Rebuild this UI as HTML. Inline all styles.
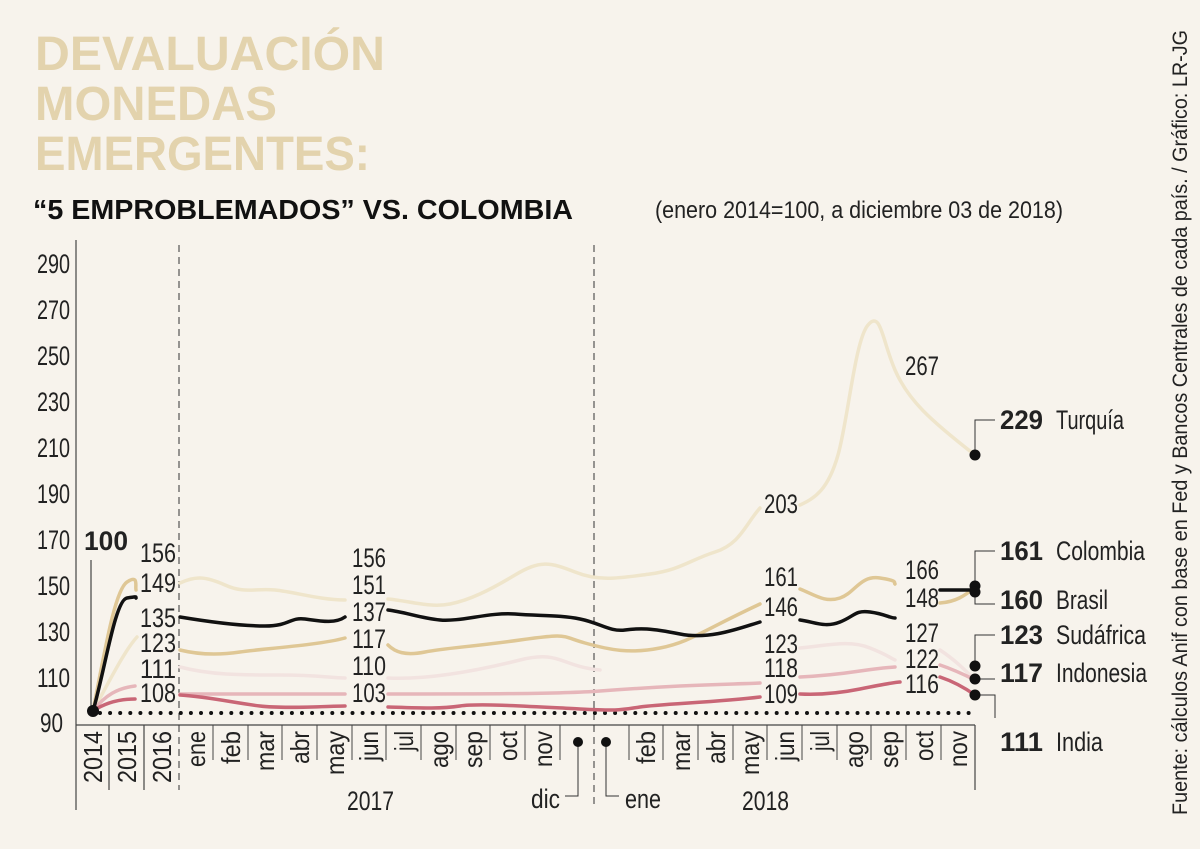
<!DOCTYPE html>
<html><head><meta charset="utf-8"><style>
html,body{margin:0;padding:0;background:#f7f3ec;}
svg{display:block;}
text{font-family:"Liberation Sans Narrow","Liberation Sans",sans-serif;fill:#222;}
.n{font-size:25px;}
.b{font-weight:bold;}
</style></head><body>
<svg width="1200" height="849" viewBox="0 0 1200 849" xmlns="http://www.w3.org/2000/svg">
<rect width="1200" height="849" fill="#f7f3ec"/>
<g font-weight="bold" style="font-size:48px">
<text x="35" y="70" style="fill:#e3d3ad" textLength="350" lengthAdjust="spacingAndGlyphs">DEVALUACIÓN</text>
<text x="35" y="120" style="fill:#e3d3ad" textLength="242" lengthAdjust="spacingAndGlyphs">MONEDAS</text>
<text x="35" y="170" style="fill:#e3d3ad" textLength="335" lengthAdjust="spacingAndGlyphs">EMERGENTES:</text>
</g>
<text x="33" y="219" class="b" style="font-size:28px;fill:#111" textLength="540" lengthAdjust="spacingAndGlyphs">“5 EMPROBLEMADOS” VS. COLOMBIA</text>
<text x="655" y="218" style="font-size:24px" textLength="408" lengthAdjust="spacingAndGlyphs">(enero 2014=100, a diciembre 03 de 2018)</text>
<text transform="translate(1187,815) rotate(-90)" style="font-size:21px" textLength="785" lengthAdjust="spacingAndGlyphs">Fuente: cálculos Anif con base en Fed y Bancos Centrales de cada país. / Gráfico: LR-JG</text>

<g class="n" text-anchor="end" style="font-size:27px">
<text x="70" y="273" textLength="33" lengthAdjust="spacingAndGlyphs">290</text>
<text x="70" y="319" textLength="33" lengthAdjust="spacingAndGlyphs">270</text>
<text x="70" y="365" textLength="33" lengthAdjust="spacingAndGlyphs">250</text>
<text x="70" y="411" textLength="33" lengthAdjust="spacingAndGlyphs">230</text>
<text x="70" y="457" textLength="33" lengthAdjust="spacingAndGlyphs">210</text>
<text x="70" y="503" textLength="33" lengthAdjust="spacingAndGlyphs">190</text>
<text x="70" y="549" textLength="33" lengthAdjust="spacingAndGlyphs">170</text>
<text x="70" y="595" textLength="33" lengthAdjust="spacingAndGlyphs">150</text>
<text x="70" y="641" textLength="33" lengthAdjust="spacingAndGlyphs">130</text>
<text x="70" y="687" textLength="33" lengthAdjust="spacingAndGlyphs">110</text>
<text x="63" y="732" textLength="23" lengthAdjust="spacingAndGlyphs">90</text>
</g>

<g stroke="#444" stroke-width="1.2" fill="none">
<line x1="76" y1="240" x2="76" y2="810"/>
<line x1="76" y1="725" x2="975" y2="725"/>
<line x1="109" y1="725" x2="109" y2="790"/>
<line x1="144" y1="725" x2="144" y2="790"/>
<line x1="975" y1="725" x2="975" y2="790"/>
<line x1="91" y1="560" x2="91" y2="711"/>
</g>
<g stroke="#444" stroke-width="1" fill="none">
<line x1="213" y1="725" x2="213" y2="760"/><line x1="248" y1="725" x2="248" y2="760"/>
<line x1="282" y1="725" x2="282" y2="760"/><line x1="317" y1="725" x2="317" y2="760"/>
<line x1="352" y1="725" x2="352" y2="760"/><line x1="386" y1="725" x2="386" y2="760"/>
<line x1="421" y1="725" x2="421" y2="760"/><line x1="456" y1="725" x2="456" y2="760"/>
<line x1="490" y1="725" x2="490" y2="760"/><line x1="525" y1="725" x2="525" y2="760"/>
<line x1="560" y1="725" x2="560" y2="760"/>
<line x1="629" y1="725" x2="629" y2="760"/><line x1="663" y1="725" x2="663" y2="760"/>
<line x1="698" y1="725" x2="698" y2="760"/><line x1="733" y1="725" x2="733" y2="760"/>
<line x1="767" y1="725" x2="767" y2="760"/><line x1="802" y1="725" x2="802" y2="760"/>
<line x1="837" y1="725" x2="837" y2="760"/><line x1="871" y1="725" x2="871" y2="760"/>
<line x1="906" y1="725" x2="906" y2="760"/><line x1="941" y1="725" x2="941" y2="760"/>
</g>
<g stroke="#333" stroke-width="1" stroke-dasharray="7,5">
<line x1="179" y1="245" x2="179" y2="790"/>
<line x1="594" y1="245" x2="594" y2="805"/>
</g>

<g class="n" text-anchor="end" style="font-size:26px">
<text transform="translate(102,731) rotate(-90)" textLength="52" lengthAdjust="spacingAndGlyphs">2014</text>
<text transform="translate(136,731) rotate(-90)" textLength="52" lengthAdjust="spacingAndGlyphs">2015</text>
<text transform="translate(171,731) rotate(-90)" textLength="52" lengthAdjust="spacingAndGlyphs">2016</text>
<text transform="translate(205,731) rotate(-90)" textLength="36" lengthAdjust="spacingAndGlyphs">ene</text>
<text transform="translate(240,731) rotate(-90)" textLength="33" lengthAdjust="spacingAndGlyphs">feb</text>
<text transform="translate(274,731) rotate(-90)" textLength="40" lengthAdjust="spacingAndGlyphs">mar</text>
<text transform="translate(309,731) rotate(-90)" textLength="33" lengthAdjust="spacingAndGlyphs">abr</text>
<text transform="translate(344,731) rotate(-90)" textLength="44" lengthAdjust="spacingAndGlyphs">may</text>
<text transform="translate(378,731) rotate(-90)" textLength="30" lengthAdjust="spacingAndGlyphs">jun</text>
<text transform="translate(413,731) rotate(-90)" textLength="20" lengthAdjust="spacingAndGlyphs">jul</text>
<text transform="translate(448,731) rotate(-90)" textLength="37" lengthAdjust="spacingAndGlyphs">ago</text>
<text transform="translate(482,731) rotate(-90)" textLength="37" lengthAdjust="spacingAndGlyphs">sep</text>
<text transform="translate(517,731) rotate(-90)" textLength="30" lengthAdjust="spacingAndGlyphs">oct</text>
<text transform="translate(552,731) rotate(-90)" textLength="36" lengthAdjust="spacingAndGlyphs">nov</text>
<text transform="translate(655,731) rotate(-90)" textLength="33" lengthAdjust="spacingAndGlyphs">feb</text>
<text transform="translate(690,731) rotate(-90)" textLength="40" lengthAdjust="spacingAndGlyphs">mar</text>
<text transform="translate(725,731) rotate(-90)" textLength="33" lengthAdjust="spacingAndGlyphs">abr</text>
<text transform="translate(759,731) rotate(-90)" textLength="44" lengthAdjust="spacingAndGlyphs">may</text>
<text transform="translate(794,731) rotate(-90)" textLength="30" lengthAdjust="spacingAndGlyphs">jun</text>
<text transform="translate(829,731) rotate(-90)" textLength="20" lengthAdjust="spacingAndGlyphs">jul</text>
<text transform="translate(863,731) rotate(-90)" textLength="37" lengthAdjust="spacingAndGlyphs">ago</text>
<text transform="translate(898,731) rotate(-90)" textLength="37" lengthAdjust="spacingAndGlyphs">sep</text>
<text transform="translate(933,731) rotate(-90)" textLength="30" lengthAdjust="spacingAndGlyphs">oct</text>
<text transform="translate(967,731) rotate(-90)" textLength="36" lengthAdjust="spacingAndGlyphs">nov</text>
</g>
<g class="n" style="font-size:27px">
<text x="347" y="810" textLength="47" lengthAdjust="spacingAndGlyphs">2017</text>
<text x="742" y="810" textLength="47" lengthAdjust="spacingAndGlyphs">2018</text>
<text x="531" y="808" textLength="29" lengthAdjust="spacingAndGlyphs">dic</text>
<text x="625" y="808" textLength="36" lengthAdjust="spacingAndGlyphs">ene</text>
</g>
<g stroke="#333" stroke-width="1" fill="none">
<polyline points="578,742 578,796 565,796"/>
<polyline points="606,742 606,796 619,796"/>
<polyline points="975,455 975,420 995,420"/>
<polyline points="995,551 975,551 975,604 995,604"/>
<polyline points="995,635 975,635 975,666"/>
<polyline points="975,679 995,679"/>
<polyline points="975,695 995,695 995,718"/>
</g>
<circle cx="578" cy="742" r="5" fill="#111"/>
<circle cx="606" cy="742" r="5" fill="#111"/>

<line x1="100" y1="713" x2="975" y2="713" stroke="#111" stroke-width="4" stroke-linecap="round" stroke-dasharray="0,10.1"/>

<g fill="none" stroke-width="3.5" stroke-linejoin="round" stroke-linecap="round">
<g stroke="#efe5cb">
<path d="M93,711 C110,680 125,650 137,637"/>
<path d="M180,583 C195,576 205,576 225,585 S255,588 275,590 S320,600 345,600"/>
<path d="M388,599 C410,601 430,608 450,604 S490,590 515,575 S550,562 575,572 S620,578 650,574 S690,560 715,552 S745,525 760,508"/>
<path d="M800,505 C815,498 828,490 838,455 S855,340 868,325 S882,340 895,370 S930,420 975,455"/>
</g>
<g stroke="#f2e3e0">
<path d="M180,667 C210,675 240,675 280,675 S330,678 345,678"/>
<path d="M388,678 C430,680 480,670 520,660 S560,666 600,670"/>
<path d="M800,648 C830,645 850,640 870,648 S890,658 895,660"/>
<path d="M940,650 C955,660 965,670 975,680"/>
</g>
<g stroke="#dfc795">
<path d="M93,711 C105,650 115,590 127,582 S135,586 136,590"/>
<path d="M180,650 C200,655 220,655 240,652 S320,645 345,638"/>
<path d="M388,645 C395,652 405,656 425,652 S470,647 520,640 S560,636 585,643 S630,654 660,648 S700,632 760,604"/>
<path d="M800,589 C815,595 825,603 840,598 S860,575 880,578 S893,583 895,584"/>
<path d="M940,603 C955,602 965,596 975,587"/>
</g>
<g stroke="#e6b6ba">
<path d="M93,711 C105,695 118,688 135,686"/>
<path d="M180,694 L345,694"/>
<path d="M388,694 C480,694 560,694 600,691 S640,688 680,686 S740,684 760,683"/>
<path d="M800,677 C820,676 840,674 860,671 S895,667 895,667"/>
<path d="M940,665 C955,670 965,675 975,680"/>
</g>
<g stroke="#c96676">
<path d="M93,711 C105,703 118,699 135,699"/>
<path d="M180,695 C210,697 235,703 260,706 S330,706 345,706"/>
<path d="M388,707 C420,708 440,709 460,706 S540,707 580,709 S620,710 640,707 S720,702 760,697"/>
<path d="M800,694 C820,695 840,693 860,689 S895,682 900,682"/>
<path d="M940,677 C955,682 965,688 975,695"/>
</g>
<g stroke="#111">
<path d="M93,711 C105,670 115,600 127,598 S135,597 136,598"/>
<path d="M180,617 C210,622 240,626 265,626 S290,617 305,619 S335,624 345,617"/>
<path d="M388,610 C405,612 420,618 440,620 S490,612 515,614 S560,615 580,619 S610,632 625,630 S650,628 680,634 S740,628 760,622"/>
<path d="M800,620 C815,622 825,628 840,622 S855,610 870,612 S890,618 895,618"/>
<path d="M940,590 L975,590"/>
</g>
</g>
<circle cx="93" cy="711" r="6" fill="#111"/>
<circle cx="975" cy="455" r="5.5" fill="#111"/>
<circle cx="975" cy="586" r="5.5" fill="#111"/>
<circle cx="975" cy="592" r="5.5" fill="#111"/>
<circle cx="975" cy="666" r="5.5" fill="#111"/>
<circle cx="975" cy="679" r="5.5" fill="#111"/>
<circle cx="975" cy="695" r="5.5" fill="#111"/>

<g class="n" style="font-size:27px">
<text x="84" y="550" class="b" textLength="44" lengthAdjust="spacingAndGlyphs">100</text>
<text x="140" y="562" textLength="36" lengthAdjust="spacingAndGlyphs">156</text>
<text x="140" y="592" textLength="36" lengthAdjust="spacingAndGlyphs">149</text>
<text x="140" y="627" textLength="36" lengthAdjust="spacingAndGlyphs">135</text>
<text x="140" y="652" textLength="36" lengthAdjust="spacingAndGlyphs">123</text>
<text x="140" y="678" textLength="36" lengthAdjust="spacingAndGlyphs">111</text>
<text x="140" y="702" textLength="36" lengthAdjust="spacingAndGlyphs">108</text>
<text x="352" y="567" textLength="34" lengthAdjust="spacingAndGlyphs">156</text>
<text x="352" y="594" textLength="34" lengthAdjust="spacingAndGlyphs">151</text>
<text x="352" y="621" textLength="34" lengthAdjust="spacingAndGlyphs">137</text>
<text x="352" y="648" textLength="34" lengthAdjust="spacingAndGlyphs">117</text>
<text x="352" y="675" textLength="34" lengthAdjust="spacingAndGlyphs">110</text>
<text x="352" y="702" textLength="34" lengthAdjust="spacingAndGlyphs">103</text>
<text x="764" y="513" textLength="34" lengthAdjust="spacingAndGlyphs">203</text>
<text x="764" y="586" textLength="34" lengthAdjust="spacingAndGlyphs">161</text>
<text x="764" y="616" textLength="34" lengthAdjust="spacingAndGlyphs">146</text>
<text x="764" y="653" textLength="34" lengthAdjust="spacingAndGlyphs">123</text>
<text x="764" y="677" textLength="34" lengthAdjust="spacingAndGlyphs">118</text>
<text x="764" y="703" textLength="34" lengthAdjust="spacingAndGlyphs">109</text>
<text x="905" y="375" textLength="34" lengthAdjust="spacingAndGlyphs">267</text>
<text x="905" y="579" textLength="34" lengthAdjust="spacingAndGlyphs">166</text>
<text x="905" y="607" textLength="34" lengthAdjust="spacingAndGlyphs">148</text>
<text x="905" y="642" textLength="34" lengthAdjust="spacingAndGlyphs">127</text>
<text x="905" y="668" textLength="34" lengthAdjust="spacingAndGlyphs">122</text>
<text x="905" y="693" textLength="34" lengthAdjust="spacingAndGlyphs">116</text>
<text x="1000" y="429" class="b" textLength="43" lengthAdjust="spacingAndGlyphs">229</text><text x="1056" y="429" textLength="68" lengthAdjust="spacingAndGlyphs">Turquía</text>
<text x="1000" y="560" class="b" textLength="43" lengthAdjust="spacingAndGlyphs">161</text><text x="1056" y="560" textLength="89" lengthAdjust="spacingAndGlyphs">Colombia</text>
<text x="1000" y="609" class="b" textLength="43" lengthAdjust="spacingAndGlyphs">160</text><text x="1056" y="609" textLength="52" lengthAdjust="spacingAndGlyphs">Brasil</text>
<text x="1000" y="644" class="b" textLength="43" lengthAdjust="spacingAndGlyphs">123</text><text x="1056" y="644" textLength="90" lengthAdjust="spacingAndGlyphs">Sudáfrica</text>
<text x="1000" y="682" class="b" textLength="43" lengthAdjust="spacingAndGlyphs">117</text><text x="1056" y="682" textLength="91" lengthAdjust="spacingAndGlyphs">Indonesia</text>
<text x="1000" y="751" class="b" textLength="43" lengthAdjust="spacingAndGlyphs">111</text><text x="1056" y="751" textLength="47" lengthAdjust="spacingAndGlyphs">India</text>
</g>
</svg>
</body></html>
